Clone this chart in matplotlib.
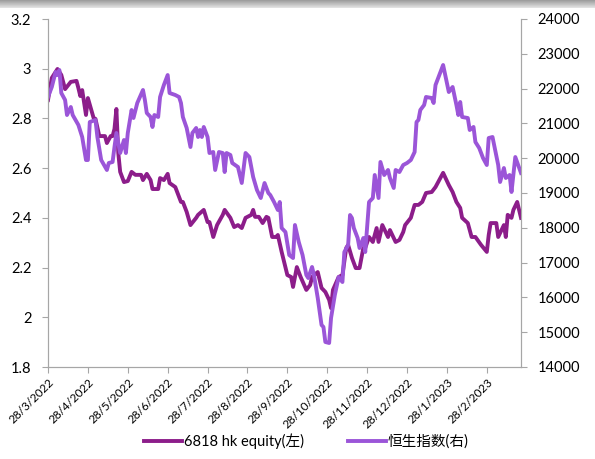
import numpy as np
import matplotlib
matplotlib.use("Agg")
import matplotlib.pyplot as plt
from matplotlib.lines import Line2D

plt.rcParams['font.family'] = ['Lato', 'Noto Sans CJK SC', 'DejaVu Sans']

# trading-day index (category axis) and values
dark_t = [0, 2, 5, 7, 9, 12, 15, 16, 17, 18, 20, 21, 24, 25, 27, 30, 31, 33, 34, 35, 36, 37, 38, 40,
          42, 44, 46, 49, 50, 52, 54, 55, 58, 59, 61, 63, 64, 67, 70, 71, 73, 75, 78, 79, 82, 84, 85,
          87, 89, 92, 93, 96, 98, 100, 102, 104, 107, 108, 109, 111, 113, 115, 116, 118, 120, 121, 123,
          126, 128, 129, 131, 133, 136, 138, 139, 142, 144, 146, 148, 149, 150, 153, 155, 157, 158, 160,
          162, 164, 166, 167, 169, 171, 173, 174, 176, 179, 180, 183, 185, 187, 188, 191, 193, 195, 197,
          199, 202, 204, 208, 211, 213, 215, 217, 218, 221, 223, 225, 228, 231, 232, 233, 236, 237, 240,
          241, 242, 244, 245, 247, 249]
dark_v = [2.874, 2.963, 2.999, 2.975, 2.918, 2.947, 2.951, 2.922, 2.890, 2.914, 2.814, 2.882, 2.802,
          2.798, 2.729, 2.729, 2.701, 2.729, 2.729, 2.758, 2.838, 2.661, 2.585, 2.544, 2.548, 2.585,
          2.573, 2.573, 2.552, 2.577, 2.552, 2.516, 2.516, 2.560, 2.552, 2.577, 2.540, 2.524, 2.464,
          2.464, 2.424, 2.371, 2.400, 2.412, 2.432, 2.383, 2.383, 2.323, 2.371, 2.412, 2.432, 2.400,
          2.363, 2.371, 2.359, 2.400, 2.412, 2.432, 2.404, 2.404, 2.379, 2.404, 2.400, 2.323, 2.323,
          2.331, 2.263, 2.170, 2.162, 2.122, 2.202, 2.162, 2.110, 2.130, 2.162, 2.182, 2.118, 2.102,
          2.070, 2.037, 2.110, 2.162, 2.170, 2.279, 2.291, 2.239, 2.198, 2.198, 2.279, 2.279, 2.323,
          2.303, 2.359, 2.303, 2.371, 2.323, 2.351, 2.303, 2.311, 2.343, 2.371, 2.400, 2.452, 2.452,
          2.464, 2.500, 2.504, 2.524, 2.581, 2.532, 2.504, 2.464, 2.440, 2.400, 2.379, 2.323, 2.323,
          2.291, 2.263, 2.331, 2.379, 2.379, 2.323, 2.371, 2.323, 2.412, 2.400, 2.432, 2.464, 2.400]

hsi_t = [0, 2, 4, 5, 6, 7, 9, 10, 12, 13, 16, 18, 20, 21, 22, 25, 26, 28, 31, 32, 34, 35, 36, 38, 40,
         41, 42, 44, 45, 47, 50, 51, 52, 54, 55, 56, 58, 59, 61, 63, 64, 67, 69, 70, 71, 73, 75, 76, 78,
         79, 80, 81, 82, 84, 85, 87, 88, 90, 92, 93, 94, 96, 97, 100, 102, 104, 106, 108, 110, 112, 114,
         116, 117, 119, 121, 122, 123, 125, 127, 129, 130, 132, 134, 136, 137, 139, 140, 142, 144, 145,
         146, 148, 149, 151, 153, 155, 156, 158, 159, 160, 161, 163, 164, 166, 167, 169, 171, 172, 174,
         175, 177, 179, 180, 182, 183, 185, 187, 189, 191, 193, 194, 195, 196, 198, 199, 202, 203, 204,
         208, 211, 213, 215, 216, 217, 218, 221, 222, 224, 225, 227, 229, 231, 232, 234, 237, 238, 240,
         241, 243, 244, 246, 249]
hsi_v = [21760, 22046, 22477, 22390, 22534, 21873, 21672, 21241, 21471, 21241, 20954, 20609, 19948,
         19948, 21040, 21098, 20609, 19948, 19661, 19862, 19891, 20322, 20724, 20149, 20523, 20149,
         20724, 21385, 21155, 21586, 21960, 21672, 21299, 21184, 20897, 21241, 21184, 21759, 22103,
         22390, 21873, 21816, 21759, 21586, 21184, 20868, 20322, 20724, 20868, 20609, 20810, 20609,
         20897, 20609, 20149, 20178, 19661, 20178, 20149, 19603, 20149, 20092, 19862, 19747, 19287,
         20149, 20034, 19460, 19086, 18856, 19287, 19000, 18942, 18741, 18511, 18741, 17994, 17879,
         17218, 17132, 18080, 17592, 17218, 16644, 16557, 16874, 16644, 15983, 15207, 15150, 14719,
         14690, 15408, 16069, 16586, 16442, 17304, 17505, 18367, 18281, 17994, 17707, 17419, 17707,
         17304, 18741, 18856, 19517, 18856, 19891, 19517, 19661, 19431, 19144, 19661, 19603, 19804,
         19862, 19948, 20178, 21040, 21098, 21385, 21529, 21759, 21730, 21586, 22103, 22678, 21902,
         22046, 21529, 21241, 21615, 21184, 21155, 20810, 20897, 20465, 20293, 20006, 19804, 20580,
         20609, 19804, 19316, 19718, 19431, 19517, 19029, 20034, 19575]

tick_labels = ["28/3/2022", "28/4/2022", "28/5/2022", "28/6/2022", "28/7/2022", "28/8/2022",
               "28/9/2022", "28/10/2022", "28/11/2022", "28/12/2022", "28/1/2023", "28/2/2023"]
tick_step = 21
n_points = 250

dark_color = "#8C1D8A"
light_color = "#9B55D8"
axis_color = "#A6A6A6"

fig = plt.figure(figsize=(5.95, 4.59), dpi=100)

# top gray gradient band
band = fig.add_axes([0, 1 - 8 / 459, 1, 8 / 459])
grad = np.linspace(0.62, 0.88, 8).reshape(-1, 1)
band.imshow(np.repeat(grad, 10, axis=1), cmap="gray", vmin=0, vmax=1, aspect="auto")
band.axis("off")

ax = fig.add_axes([48 / 595, 1 - 367 / 459, (521 - 48) / 595, (367 - 19) / 459])
ax2 = ax.twinx()

ax.plot(dark_t, dark_v, color=dark_color, lw=2.8, solid_joinstyle="round", zorder=3)
ax2.plot(hsi_t, hsi_v, color=light_color, lw=2.8, solid_joinstyle="round", zorder=2)

ax.set_xlim(0, n_points - 1)
ax.set_ylim(1.8, 3.2)
ax.set_yticks([1.8, 2.0, 2.2, 2.4, 2.6, 2.8, 3.0, 3.2])
ax.set_yticklabels(["1.8", "2", "2.2", "2.4", "2.6", "2.8", "3", "3.2"])
ax2.set_ylim(14000, 24000)
ax2.set_yticks(np.arange(14000, 24001, 1000))

ax.set_xticks([i * tick_step for i in range(len(tick_labels))])
ax.set_xticklabels(tick_labels, rotation=45, ha="right", rotation_mode="anchor", fontsize=8.5)

for a in (ax, ax2):
    for s in a.spines.values():
        s.set_color(axis_color)
    a.spines["top"].set_visible(False)
    a.tick_params(colors=axis_color, labelcolor="black", length=4, labelsize=10.5)
ax.tick_params(axis="x", labelsize=8.5, pad=3)
ax.tick_params(axis="y", pad=8)
ax2.tick_params(axis="y", pad=8)

handles = [Line2D([], [], color=dark_color, lw=2.8), Line2D([], [], color=light_color, lw=2.8)]
fig.legend(handles, ["6818 hk equity(左)", "恒生指数(右)"], loc="center", ncol=2,
           bbox_to_anchor=(0.515, 1 - 441 / 459), frameon=False, fontsize=10.5,
           handlelength=2.6, handletextpad=0.15, columnspacing=3.0)

fig.savefig("out.png", dpi=100)
